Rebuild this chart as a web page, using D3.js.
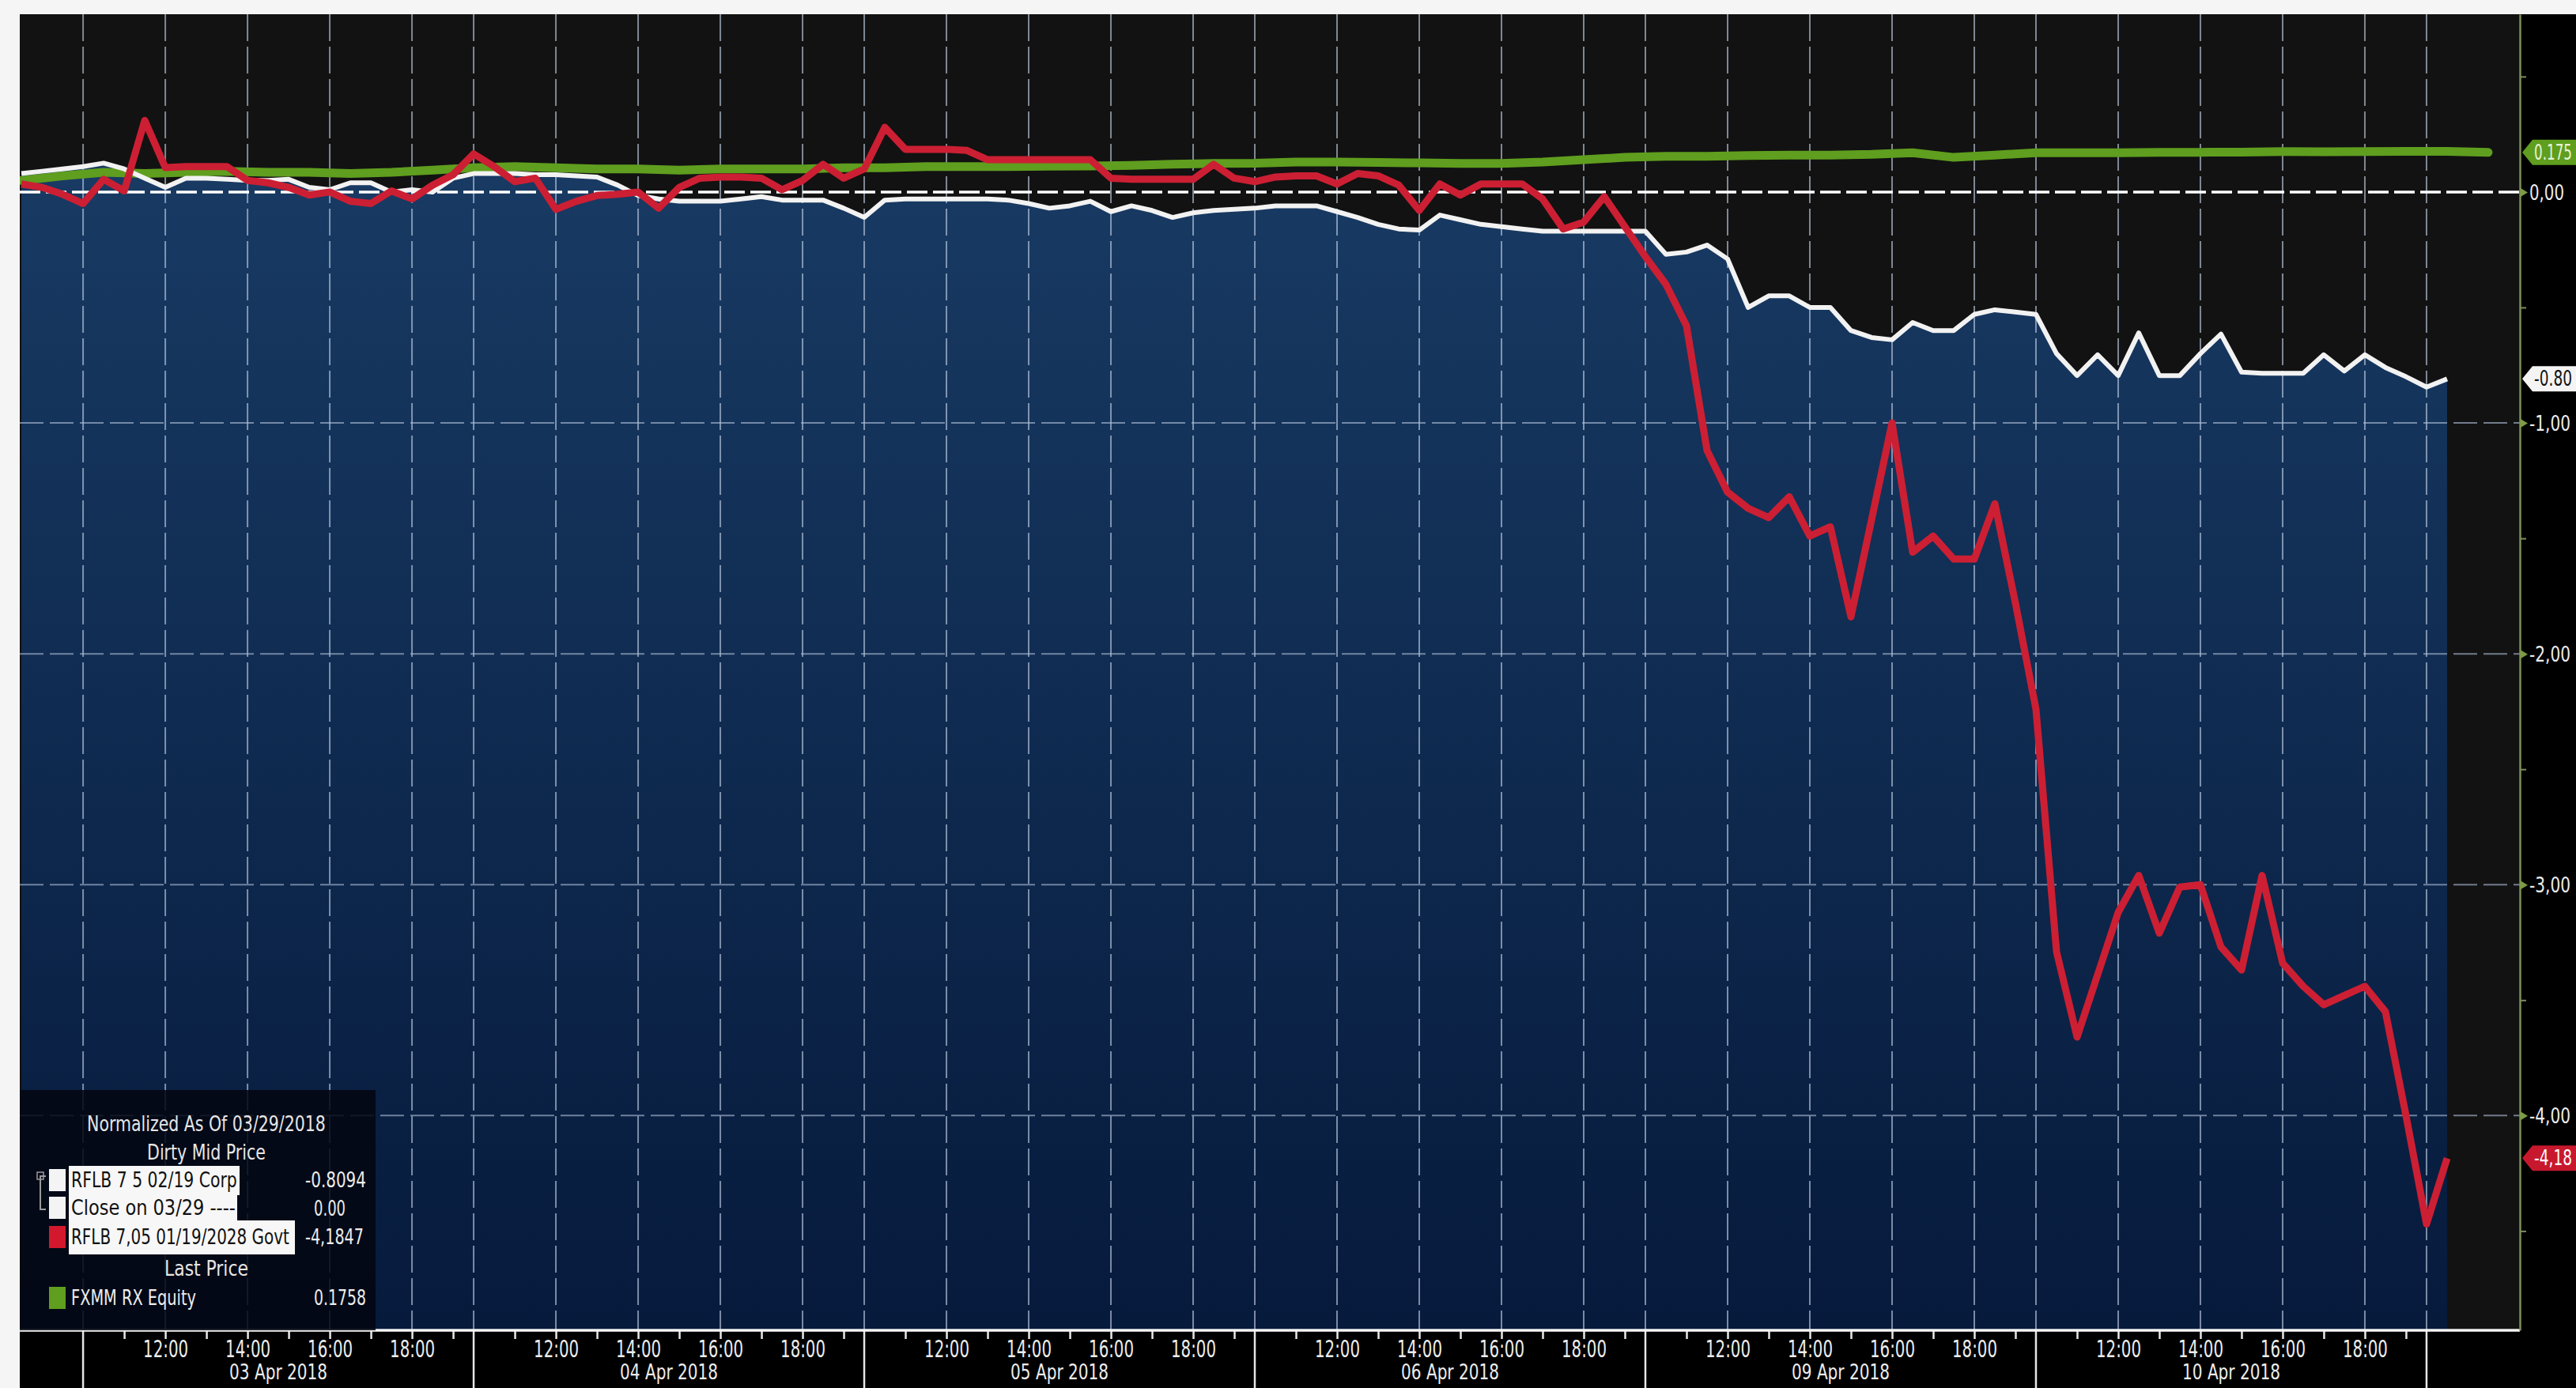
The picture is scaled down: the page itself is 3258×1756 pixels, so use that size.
<!DOCTYPE html>
<html><head><meta charset="utf-8">
<script src="https://cdn.jsdelivr.net/npm/d3@7"></script>
<style>
html,body{margin:0;padding:0;background:#000;overflow:hidden}
svg{display:block}
text{font-family:"Liberation Sans Narrow","DejaVu Sans Condensed","Arial Narrow",sans-serif}
</style>
</head><body>
<svg id="chart" width="3258" height="1756"></svg>
<script>
// ---------- DATA ----------
const days = ["03 Apr 2018","04 Apr 2018","05 Apr 2018","06 Apr 2018","09 Apr 2018","10 Apr 2018"];
const hourLabels = ["12:00","14:00","16:00","18:00"];
const labelHours = [12,14,16,18];
const minorHours = [11,12,13,14,15,16,17,18,19];
const sessionOpen = 10, sessionLength = 9.5;          // each day shown 10:00-19:30
const yTicks = [0,-1,-2,-3,-4];
const yTickLabels = ["0,00","-1,00","-2,00","-3,00","-4,00"];
const yMinor = [0.5,-0.5,-1.5,-2.5,-3.5,-4.5];
// half-hour bars; first bar = 02 Apr 18:00 (session hour -1.5)
const barStart = -1.5, barStep = 0.5;
const rflb2019 = [0.08,0.09,0.10,0.11,0.125,0.10,0.06,0.02,0.06,0.06,0.055,0.05,0.05,0.055,0.02,0.01,0.04,0.04,0.0,0.01,
  0.0,0.06,0.08,0.08,0.08,0.075,0.075,0.07,0.065,0.03,-0.015,-0.03,-0.04,-0.04,-0.04,-0.03,-0.02,-0.035,-0.035,-0.035,
  -0.07,-0.11,-0.035,-0.03,-0.03,-0.03,-0.03,-0.03,-0.035,-0.05,-0.07,-0.06,-0.04,-0.085,-0.06,-0.08,-0.11,-0.09,-0.08,-0.075,
  -0.07,-0.06,-0.06,-0.06,-0.085,-0.11,-0.14,-0.16,-0.165,-0.10,-0.12,-0.14,-0.15,-0.16,-0.17,-0.17,-0.17,-0.17,-0.17,-0.17,
  -0.27,-0.26,-0.23,-0.29,-0.50,-0.45,-0.45,-0.50,-0.50,-0.60,-0.63,-0.64,-0.565,-0.60,-0.60,-0.53,-0.51,-0.52,-0.53,-0.70,
  -0.795,-0.705,-0.795,-0.61,-0.795,-0.795,-0.70,-0.615,-0.78,-0.785,-0.785,-0.785,-0.705,-0.775,-0.705,-0.76,-0.80,-0.845,-0.8094];
const rflb2028 = [0.035,0.02,-0.01,-0.05,0.055,0.005,0.31,0.106,0.11,0.11,0.11,0.05,0.04,0.02,-0.013,0.0,-0.04,-0.05,0.005,-0.03,
  0.03,0.075,0.165,0.11,0.045,0.06,-0.075,-0.04,-0.015,-0.01,0.0,-0.07,0.02,0.06,0.065,0.065,0.06,0.01,0.05,0.12,
  0.06,0.10,0.28,0.185,0.185,0.185,0.18,0.14,0.14,0.14,0.14,0.14,0.14,0.06,0.055,0.055,0.055,0.055,0.12,0.06,
  0.045,0.065,0.07,0.07,0.035,0.08,0.07,0.03,-0.08,0.035,-0.013,0.035,0.035,0.035,-0.03,-0.16,-0.13,-0.02,-0.15,-0.28,
  -0.40,-0.58,-1.12,-1.30,-1.37,-1.41,-1.32,-1.49,-1.45,-1.84,-1.42,-1.00,-1.56,-1.49,-1.59,-1.59,-1.35,-1.78,-2.24,-3.29,
  -3.66,-3.39,-3.12,-2.96,-3.21,-3.01,-3.00,-3.27,-3.37,-2.96,-3.34,-3.44,-3.52,-3.48,-3.44,-3.55,-4.0,-4.47,-4.1847];
// hourly points for FXMM RX Equity, first at session hour -1.5
const fxmmStart = -1.5, fxmmStep = 1;
const fxmm = [0.05,0.07,0.085,0.08,0.085,0.09,0.085,0.085,0.08,0.085,0.095,0.105,0.11,0.105,0.10,0.10,0.095,0.10,0.10,0.10,
  0.105,0.105,0.11,0.11,0.11,0.112,0.113,0.115,0.12,0.124,0.125,0.13,0.13,0.128,0.126,0.124,0.124,0.13,0.14,0.15,
  0.155,0.155,0.158,0.16,0.16,0.163,0.17,0.15,0.16,0.17,0.17,0.17,0.172,0.172,0.173,0.175,0.174,0.175,0.176,0.176,0.172];
const closeLevel = 0;
const legendTitles = ["Normalized As Of 03/29/2018","Dirty Mid Price","Last Price"];
const legendLabels = ["RFLB 7 5 02/19 Corp","Close on 03/29 ----","RFLB 7,05 01/19/2028 Govt","FXMM RX Equity"];
const legendValues = ["-0.8094","0.00","-4,1847","0.1758"];
const tagTexts = ["0.175","-0.80","-4,18"];

// ---------- COLORS ----------
const cWhite = "#f2f2f2", cRed = "#cc1f33", cGreen = "#5f9e1e";

// ---------- LAYOUT ----------
const W = 3258, H = 1756;
const L = 25, R = 3187, T = 18, B = 1683;
const svg = d3.select("#chart");
// squeeze a text horizontally so its real box is `w` wide
function squeeze(t, x0, y0, w) {
  const nat = t.node().getComputedTextLength();
  const s = nat > 0 ? w / nat : 1;
  t.attr("x", 0).attr("y", 0).attr("transform", `translate(${x0},${y0}) scale(${s},1)`);
  return t;
}
function addText(g, txt, x0, y0, size, w, fill, anchor) {
  const t = g.append("text").attr("font-size", size).attr("dominant-baseline", "central")
    .attr("text-anchor", anchor || "start").attr("fill", fill).text(txt);
  return squeeze(t, x0, y0, w);
}

const x = d3.scaleLinear().domain([-1.54, 59.27]).range([L, R]);
const y = d3.scaleLinear().domain([0.77, -4.93]).range([T, B]);
const tOf = (d, h) => d * sessionLength + (h - sessionOpen);

svg.append("rect").attr("width", W).attr("height", H).attr("fill", "#000");
svg.append("rect").attr("x", L).attr("y", T).attr("width", R - L).attr("height", B - T).attr("fill", "#121212");

const defs = svg.append("defs");
const g1 = defs.append("linearGradient").attr("id", "blueFill").attr("gradientUnits", "userSpaceOnUse")
  .attr("x1", 0).attr("x2", 0).attr("y1", y(0.1)).attr("y2", B);
g1.append("stop").attr("offset", 0).attr("stop-color", "#183a63");
g1.append("stop").attr("offset", 1).attr("stop-color", "#061a3c");
defs.append("clipPath").attr("id", "plotClip").append("rect")
  .attr("x", L).attr("y", T).attr("width", R - L).attr("height", B - T);

const plot = svg.append("g").attr("clip-path", "url(#plotClip)");

const barT = i => barStart + i * barStep;
const area = d3.area().x((d, i) => x(barT(i))).y0(B).y1(d => y(d));
plot.append("path").datum(rflb2019).attr("d", area).attr("fill", "url(#blueFill)");

// vertical grid
const gridT = [];
for (let d = 0; d <= days.length; d++) gridT.push(d * sessionLength);
days.forEach((_, d) => labelHours.forEach(h => gridT.push(tOf(d, h))));
plot.selectAll("line.vg").data(gridT).join("line")
  .attr("x1", d => x(d)).attr("x2", d => x(d)).attr("y1", T).attr("y2", B)
  .attr("stroke", "rgba(195,210,230,0.62)").attr("stroke-width", 2).attr("stroke-dasharray", "34,7");
// horizontal grid
plot.selectAll("line.hg").data(yTicks.filter(v => v !== 0)).join("line")
  .attr("x1", L).attr("x2", R).attr("y1", d => y(d)).attr("y2", d => y(d))
  .attr("stroke", "rgba(175,190,215,0.62)").attr("stroke-width", 2).attr("stroke-dasharray", "30,8");

// series
const line = d3.line().x((d, i) => x(barT(i))).y(d => y(d));
const lineG = d3.line().x((d, i) => x(fxmmStart + i * fxmmStep)).y(d => y(d));
plot.append("path").datum(fxmm).attr("d", lineG).attr("fill", "none")
  .attr("stroke", cGreen).attr("stroke-width", 11).attr("stroke-linejoin", "round").attr("stroke-linecap", "round");
plot.append("line").attr("x1", L).attr("x2", R).attr("y1", y(closeLevel)).attr("y2", y(closeLevel))
  .attr("stroke", "#ffffff").attr("stroke-width", 3.5).attr("stroke-dasharray", "26,7");
plot.append("path").datum(rflb2019).attr("d", line).attr("fill", "none")
  .attr("stroke", cWhite).attr("stroke-width", 6).attr("stroke-linejoin", "round");
plot.append("path").datum(rflb2028).attr("d", line).attr("fill", "none")
  .attr("stroke", cRed).attr("stroke-width", 9).attr("stroke-linejoin", "round");

// ---------- X AXIS ----------
const hourTickT = [], hourTickLab = [];
days.forEach((_, d) => labelHours.forEach((h, k) => { hourTickT.push(tOf(d, h)); hourTickLab.push(hourLabels[k]); }));
const minorT = [];
days.forEach((_, d) => minorHours.forEach(h => minorT.push(tOf(d, h))));

const xMinor = svg.append("g").attr("transform", `translate(0,${B})`)
  .call(d3.axisBottom(x).tickValues(minorT).tickSize(11).tickFormat(""));
xMinor.select(".domain").remove();
xMinor.selectAll(".tick line").attr("stroke", "#e8e8e8").attr("stroke-width", 2.5);

const xAxis = svg.append("g").attr("transform", `translate(0,${B})`)
  .call(d3.axisBottom(x).tickValues(hourTickT).tickSize(0).tickFormat((d, i) => hourTickLab[i]));
xAxis.select(".domain").remove();
xAxis.selectAll(".tick text").attr("fill", "#ececec").attr("font-size", 30)
  .attr("font-family", '"Liberation Sans Narrow","DejaVu Sans Condensed",sans-serif')
  .attr("dy", null).attr("dominant-baseline", "central")
  .each(function () { squeeze(d3.select(this), 0, 24, 57); });

// day separators below axis
svg.selectAll("line.sep").data(gridT.slice(0, days.length + 1)).join("line")
  .attr("x1", d => x(d)).attr("x2", d => x(d)).attr("y1", B).attr("y2", H)
  .attr("stroke", "#e6e6e6").attr("stroke-width", 2.5);
const dayG = svg.append("g");
days.forEach((d, i) => addText(dayG, d, x((i + 0.5) * sessionLength), 1736, 26, 124, "#ececec", "middle"));
svg.append("line").attr("x1", L).attr("x2", R).attr("y1", B).attr("y2", B)
  .attr("stroke", "#f4f4f4").attr("stroke-width", 3.5);

// ---------- Y AXIS (right) ----------
const yAxis = svg.append("g").attr("transform", `translate(${R},0)`)
  .call(d3.axisRight(y).tickValues(yTicks).tickSize(0).tickSizeOuter(0)
    .tickFormat((d, i) => yTickLabels[i]));
yAxis.select(".domain").attr("stroke", "#7d8f5a").attr("stroke-width", 2.5);
yAxis.selectAll(".tick text").attr("fill", "#ececec").attr("font-size", 27)
  .attr("font-family", '"Liberation Sans Narrow","DejaVu Sans Condensed",sans-serif')
  .attr("dy", null).attr("dominant-baseline", "central")
  .each(function (d, i) { squeeze(d3.select(this), 12, 0, yTickLabels[i].startsWith("-") ? 52 : 44); });
yAxis.selectAll(".tick").append("path").attr("d", "M0,-6L10,0L0,6Z").attr("fill", "#7d9a45");
const yMin = svg.append("g").attr("transform", `translate(${R},0)`)
  .call(d3.axisRight(y).tickValues(yMinor).tickSize(8).tickSizeOuter(0).tickFormat(""));
yMin.select(".domain").remove();
yMin.selectAll(".tick line").attr("stroke", "#7d8f5a").attr("stroke-width", 2);

// last value tags
const tags = [
  {v: fxmm[fxmm.length - 1], fill: cGreen, tc: "#e8f3d8"},
  {v: rflb2019[rflb2019.length - 1], fill: "#f4f4f4", tc: "#111"},
  {v: rflb2028[rflb2028.length - 1], fill: "#c8182e", tc: "#fff"}
];
const tagG = svg.append("g");
tags.forEach((tg, i) => {
  const cy = y(tg.v);
  tagG.append("path").attr("d", `M${R + 3},${cy} L${R + 16},${cy - 16} H${W + 10} V${cy + 16} H${R + 16} Z`)
    .attr("fill", tg.fill);
  addText(tagG, tagTexts[i], R + 18, cy, 26, 48, tg.tc, "start");
});

// white border strips (screenshot edge)
svg.append("rect").attr("x", 0).attr("y", 0).attr("width", W).attr("height", T).attr("fill", "#f5f5f5");
svg.append("rect").attr("x", 0).attr("y", 0).attr("width", L).attr("height", H).attr("fill", "#f5f5f5");

// ---------- LEGEND ----------
const lg = svg.append("g");
lg.append("rect").attr("x", L).attr("y", 1379).attr("width", 450).attr("height", B - 1379)
  .attr("fill", "rgba(3,6,16,0.86)");
const titlePos = [[1422, 302], [1458, 150], [1605, 106]];
legendTitles.forEach((t, i) => addText(lg, t, 261, titlePos[i][0], 27, titlePos[i][1], "#e6e6e6", "middle"));

const rows = [
  {cy: 1493, sw: "#f4f4f4", box: [1475, 1512, 216], tc: "#111", w: 210},
  {cy: 1528, sw: "#f4f4f4", box: [1512, 1544, 213], tc: "#111", w: 208},
  {cy: 1565, sw: "#d3182e", box: [1544, 1587, 286], tc: "#111", w: 276},
  {cy: 1642, sw: cGreen, box: null, tc: "#ececec", w: 158}
];
const valueW = [77, 40, 74, 66];
rows.forEach((r, i) => {
  lg.append("rect").attr("x", 62).attr("y", r.cy - 14).attr("width", 21).attr("height", 28).attr("fill", r.sw);
  if (r.box) lg.append("rect").attr("x", 87).attr("y", r.box[0]).attr("width", r.box[2]).attr("height", r.box[1] - r.box[0]).attr("fill", "#f7f7f7");
  addText(lg, legendLabels[i], 90, r.cy, 26, r.w, r.tc, "start");
  const neg = legendValues[i].startsWith("-");
  addText(lg, legendValues[i], neg ? 386 : 397, r.cy, 26, valueW[i], "#ececec", "start");
});
lg.append("path").attr("d", "M58,1488H51V1530H58").attr("fill", "none").attr("stroke", "#9a9a9a").attr("stroke-width", 2);
lg.append("rect").attr("x", 47).attr("y", 1483).attr("width", 8).attr("height", 9).attr("fill", "none").attr("stroke", "#9a9a9a").attr("stroke-width", 1.5);
</script>
</body></html>
